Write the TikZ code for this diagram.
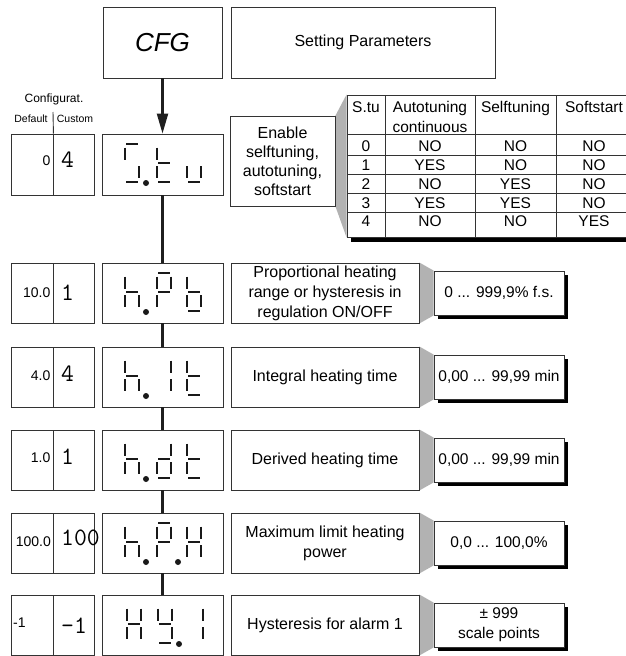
\documentclass[tikz,border=0pt]{standalone}
\usepackage{fontspec}
\setmainfont{Liberation Sans}
\usetikzlibrary{arrows.meta,backgrounds}

\tikzset{
  frame/.style={draw=black!80, line width=0.9pt, fill=white, inner sep=0pt},
  seg/.style={line width=2.6pt, draw=black!90},
  conn/.style={line width=2.2pt, draw=black!88},
  bevel/.style={fill=black!30, draw=none},
  shade/.style={fill=black, draw=none},
  tline/.style={draw=black!80, line width=0.9pt},
  dtxt/.style={font=\fontsize{16}{20}\selectfont, align=center},
  ttxt/.style={inner sep=0pt, font=\fontsize{15.5}{19}\selectfont, text height=11pt, text depth=0pt},
  defv/.style={inner sep=0pt, anchor=east, font=\fontsize{14}{14}\selectfont},
  cusv/.style={inner sep=0pt, anchor=west, font=\ttfamily\fontsize{25}{25}\selectfont},
  smalllab/.style={inner sep=0pt, font=\fontsize{10.5}{10.5}\selectfont},
}

\newcommand\segdrawa[2]{\draw[seg] ({#1+1},{#2+10}) -- ({#1+13},{#2+10});}
\newcommand\segdrawb[2]{\draw[seg] ({#1+14},{#2+13.5}) -- ({#1+14},{#2+25.5});}
\newcommand\segdrawc[2]{\draw[seg] ({#1+14},{#2+32}) -- ({#1+14},{#2+44});}
\newcommand\segdrawd[2]{\draw[seg] ({#1+1},{#2+48}) -- ({#1+13},{#2+48});}
\newcommand\segdrawe[2]{\draw[seg] ({#1},{#2+32}) -- ({#1},{#2+44});}
\newcommand\segdrawf[2]{\draw[seg] ({#1},{#2+13.5}) -- ({#1},{#2+25.5});}
\newcommand\segdrawg[2]{\draw[seg] ({#1+1},{#2+29}) -- ({#1+13},{#2+29});}
\newcommand\segdotp[2]{\fill[black!90] ({#1+21},{#2+49}) circle[radius=3pt];}
\newcommand\segchar[3]{\foreach \s in {#3}{\csname segdraw\s\endcsname{#1}{#2}}}

\begin{document}
\begin{tikzpicture}[x=1pt,y=-1pt]
\useasboundingbox (0,0) rectangle (625,656);

% top boxes
\node[frame, minimum width=119pt, minimum height=71pt, font=\fontsize{26}{26}\selectfont\itshape] (cfg) at (162.5,42.5) {CFG};
\node[frame, minimum width=264pt, minimum height=71pt, font=\fontsize{16}{20}\selectfont] (setp) at (363,42.5) {Setting Parameters};

% header labels
\node[inner sep=0pt, font=\fontsize{12}{12}\selectfont] (confl) at (54,99) {Configurat.};
\node[smalllab] (defl) at (31,119) {Default};
\node[smalllab] (cusl) at (75,119) {Custom};

% ---- row 1 (S.tu)
\node[frame, minimum width=42pt, minimum height=61pt] (def1) at (32,164.5) {};
\node[frame, minimum width=41pt, minimum height=61pt] (cus1) at (73.5,164.5) {};
\node[frame, minimum width=121pt, minimum height=61pt] (d1) at (162.5,164.5) {};
\node[frame, minimum width=105pt, minimum height=90pt, dtxt, font=\fontsize{16}{19}\selectfont] (en) at (282.5,161) {Enable\\selftuning,\\autotuning,\\softstart};
\coordinate (septop) at (53,112);
\draw[line width=0.9pt, draw=black!80] (septop) -- (def1.north east);
\node[defv] (dv1) at (50.5,161) {0};
\node[cusv] (cv1) at (61,160) {4};
\segchar{125}{134}{a,f,c,d}\segdotp{125}{134}
\segchar{157}{134}{f,g,e,d}
\segchar{187}{134}{e,c,d}

% ---- table
\node[frame, minimum width=285pt, minimum height=142pt] (tab) at (489.5,166) {};
\draw[tline] (385,95) -- (385,237);
\draw[tline] (475,95) -- (475,237);
\draw[tline] (556.5,95) -- (556.5,237);
\foreach \yy in {134,155,174,193,212}{\draw[tline] (347,\yy) -- (632,\yy);}
\node[ttxt] (th1) at (366,107) {S.tu};
\node[ttxt] (th2) at (430,107) {Autotuning};
\node[ttxt] (th2b) at (430,127) {continuous};
\node[ttxt] (th3) at (515.5,107) {Selftuning};
\node[ttxt] (th4) at (594,107) {Softstart};
\foreach \yy/\ca/\cb/\cc/\cd/\k in {146/0/NO/NO/NO/0, 165/1/YES/NO/NO/1, 183.5/2/NO/YES/NO/2, 202.5/3/YES/YES/NO/3, 220.5/4/NO/NO/YES/4}{
  \node[ttxt] (tr\k a) at (366,\yy) {\ca};
  \node[ttxt] (tr\k b) at (430,\yy) {\cb};
  \node[ttxt] (tr\k c) at (515.5,\yy) {\cc};
  \node[ttxt] (tr\k d) at (594,\yy) {\cd};
}

% ---- rows 2..6 boxes
\foreach \t/\k in {263/2, 347/3, 430/4, 513/5, 595/6}{
  \node[frame, minimum width=42pt, minimum height=60pt] (def\k) at (32,\t+30) {};
  \node[frame, minimum width=41pt, minimum height=60pt] (cus\k) at (73.5,\t+30) {};
  \node[frame, minimum width=121pt, minimum height=60pt] (d\k) at (162.5,\t+30) {};
}
\node[frame, minimum width=188pt, minimum height=60pt, dtxt] (p2) at (325,293) {Proportional heating\\range or hysteresis in\\regulation ON/OFF};
\node[frame, minimum width=188pt, minimum height=60pt, dtxt] (p3) at (325,377) {Integral heating time};
\node[frame, minimum width=188pt, minimum height=60pt, dtxt] (p4) at (325,460) {Derived heating time};
\node[frame, minimum width=188pt, minimum height=60pt, dtxt] (p5) at (325,543) {Maximum limit heating\\power};
\node[frame, minimum width=188pt, minimum height=60pt, dtxt] (p6) at (325,625) {Hysteresis for alarm 1};

\node[frame, minimum width=130pt, minimum height=44pt, dtxt, font=\fontsize{15.5}{20}\selectfont] (r2) at (499,293) {0 ... 999,9\% f.s.};
\node[frame, minimum width=130pt, minimum height=44pt, dtxt, font=\fontsize{15.5}{20}\selectfont] (r3) at (499,377) {0,00 ... 99,99 min};
\node[frame, minimum width=130pt, minimum height=44pt, dtxt, font=\fontsize{15.5}{20}\selectfont] (r4) at (499,460) {0,00 ... 99,99 min};
\node[frame, minimum width=130pt, minimum height=44pt, dtxt, font=\fontsize{15.5}{20}\selectfont] (r5) at (499,543) {0,0 ... 100,0\%};
\node[frame, minimum width=130pt, minimum height=44pt, dtxt, font=\fontsize{15.5}{20}\selectfont] (r6) at (499,625) {± 999\\scale points};

% values
\node[defv] (dv2) at (50.5,293) {10.0};
\node[cusv] (cv2) at (61,293) {1};
\node[defv] (dv3) at (50.5,376) {4.0};
\node[cusv] (cv3) at (61,374) {4};
\node[defv] (dv4) at (50.5,458) {1.0};
\node[cusv] (cv4) at (61,457) {1};
\node[defv] (dv5) at (51,542) {100.0};
\node[cusv] (cv5) at (61,538) {100};
\node[defv, anchor=west] (dv6) at (13,623) {-1};
\node[cusv] (cv6) at (61,626) {-1};

% displays
% row 2: h.Pb
\segchar{125}{263}{f,g,e,c}\segdotp{125}{263}
\segchar{157}{263}{a,b,f,g,e}
\segchar{187}{263}{f,g,e,c,d}
% row 3: h. It
\segchar{125}{347}{f,g,e,c}\segdotp{125}{347}
\segchar{157}{347}{b,c}
\segchar{187}{347}{f,g,e,d}
% row 4: h.dt
\segchar{125}{430}{f,g,e,c}\segdotp{125}{430}
\segchar{157}{430}{b,c,g,e,d}
\segchar{187}{430}{f,g,e,d}
% row 5: h.P.H
\segchar{125}{513}{f,g,e,c}\segdotp{125}{513}
\segchar{157}{513}{a,b,f,g,e}\segdotp{157}{513}
\segchar{187}{513}{f,b,g,e,c}
% row 6: HY.1
\segchar{127}{595}{f,b,g,e,c}
\segchar{158}{595}{f,b,g,c,d}\segdotp{158}{595}
\segchar{189}{595}{b,c}

% connectors
\draw[conn, -{Triangle[length=20pt, width=11pt]}] (cfg.south) -- (d1.north);
\draw[conn] (d1.south) -- (d2.north);
\draw[conn] (d2.south) -- (d3.north);
\draw[conn] (d3.south) -- (d4.north);
\draw[conn] (d4.south) -- (d5.north);
\draw[conn] (d5.south) -- (d6.north);

% bevels and shadows
\begin{scope}[on background layer]
  \fill[bevel] (en.north east) -- (tab.north west) -- (tab.south west) -- (en.south east) -- cycle;
  \fill[shade] ([shift={(4pt,0pt)}]tab.south west) rectangle ([shift={(4pt,-5pt)}]tab.south east);
  \foreach \k in {2,3,4,5,6}{
    \fill[bevel] (p\k.north east) -- (r\k.north west) -- (r\k.south west) -- (p\k.south east) -- cycle;
    \fill[shade] ([shift={(4pt,-4pt)}]r\k.north west) rectangle ([shift={(4pt,-4pt)}]r\k.south east);
  }
\end{scope}
\end{tikzpicture}
\end{document}
